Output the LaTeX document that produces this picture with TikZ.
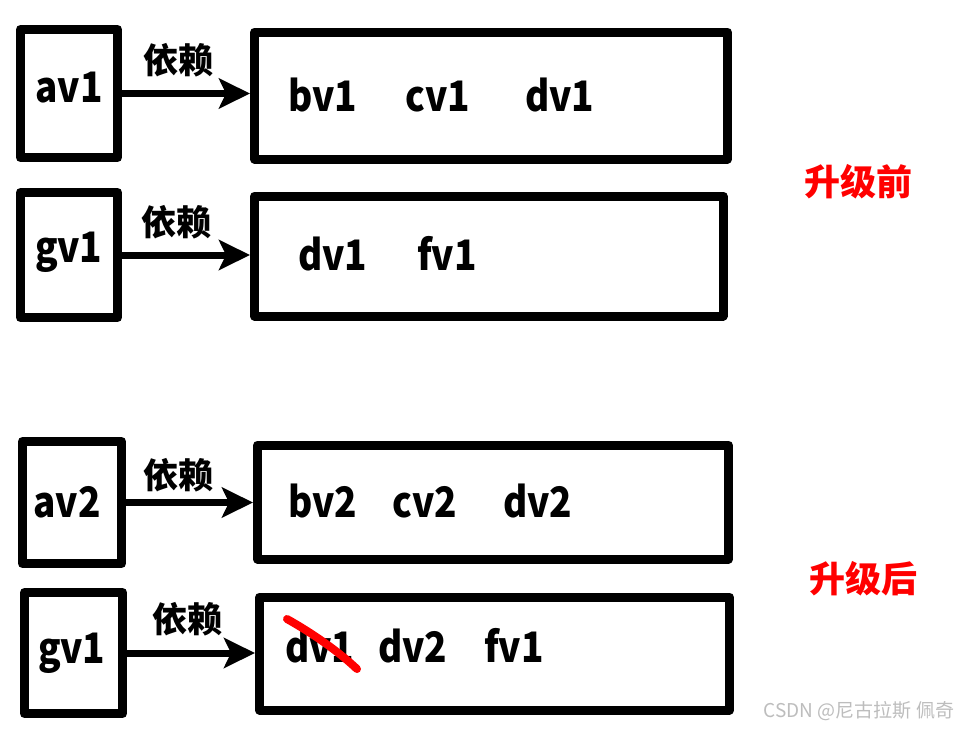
\documentclass[tikz,border=0pt]{standalone}
\usepackage{fontspec}
\setmainfont{Noto Sans CJK SC}
\newfontfamily\lblfont{Noto Sans CJK SC}[FakeStretch=0.88]
\usetikzlibrary{arrows.meta}
\definecolor{wm}{HTML}{BDBDBD}
\begin{document}
\begin{tikzpicture}[x=1pt,y=-1pt,
  box/.style={draw=black,line width=9pt,line join=round,inner sep=0pt},
  lbl/.style={anchor=base west,inner sep=0pt,font=\lblfont\fontsize{42}{44}\selectfont\bfseries},
  dep/.style={inner sep=0pt,font=\fontsize{35}{37}\selectfont\bfseries},
  stage/.style={inner sep=0pt,text=red,font=\fontsize{36}{38}\selectfont\bfseries},
  deparrow/.style={line width=7pt,-{Stealth[length=31pt,width=30pt,inset=7pt]}},
  strike/.style={red,line width=8pt,line cap=round}
]
\fill[white] (0,0) rectangle (960,728);
\useasboundingbox (0,0) rectangle (960,728);

% boxes
\node[box,minimum width=97pt,minimum height=128pt] (a1) at (69,93.5) {};
\node[box,minimum width=473pt,minimum height=127pt] (b1) at (491,95.5) {};
\node[box,minimum width=97pt,minimum height=125pt] (g1) at (69,255) {};
\node[box,minimum width=468.5pt,minimum height=120pt] (c1) at (488.75,256) {};
\node[box,minimum width=99pt,minimum height=122pt] (a2) at (72,502.5) {};
\node[box,minimum width=471pt,minimum height=114pt] (b2) at (493,502) {};
\node[box,minimum width=98pt,minimum height=121pt] (g2) at (73.5,653) {};
\node[box,minimum width=470pt,minimum height=113pt] (c2) at (494.5,653.5) {};

% arrows
\draw[deparrow] (a1.east) -- (a1.east -| b1.west);
\draw[deparrow] (g1.east) -- (g1.east -| c1.west);
\draw[deparrow] (a2.east) -- (a2.east -| b2.west);
\draw[deparrow] (g2.east) -- (g2.east -| c2.west);

% arrow labels
\node[dep] (d1) at (178,60) {依赖};
\node[dep] (d2) at (176,222) {依赖};
\node[dep] (d3) at (178,475) {依赖};
\node[dep] (d4) at (187,619) {依赖};

% left texts
\node[lbl] (ta1) at (35,102) {av1};
\node[lbl] (tg1) at (35,262) {gv1};
\node[lbl] (ta2) at (33,517) {av2};
\node[lbl] (tg2) at (38,663) {gv1};

% box texts
\node[lbl] (tb1) at (288,111) {bv1};
\node[lbl] (tc1) at (405,111) {cv1};
\node[lbl] (td1) at (525,111) {dv1};

\node[lbl] (te1) at (298,270) {dv1};
\node[lbl] (tf1) at (417,270) {fv1};

\node[lbl] (tb2) at (288,517) {bv2};
\node[lbl] (tc2) at (392,517) {cv2};
\node[lbl] (td2) at (503,517) {dv2};

\node[lbl] (te2) at (285,662) {dv1};
\node[lbl] (te3) at (378,662) {dv2};
\node[lbl] (tf2) at (484,662) {fv1};

% strike through old dv1
\draw[strike] (287,619) .. controls (312,633) and (338,651) .. (357,669);

% stage labels
\node[stage] (s1) at (858,182) {升级前};
\node[stage] (s2) at (863,579) {升级后};

% watermark
\node[inner sep=0pt,text=wm,font=\fontsize{19}{20}\selectfont] (wmk) at (859,711) {CSDN @尼古拉斯 佩奇};
\end{tikzpicture}
\end{document}
